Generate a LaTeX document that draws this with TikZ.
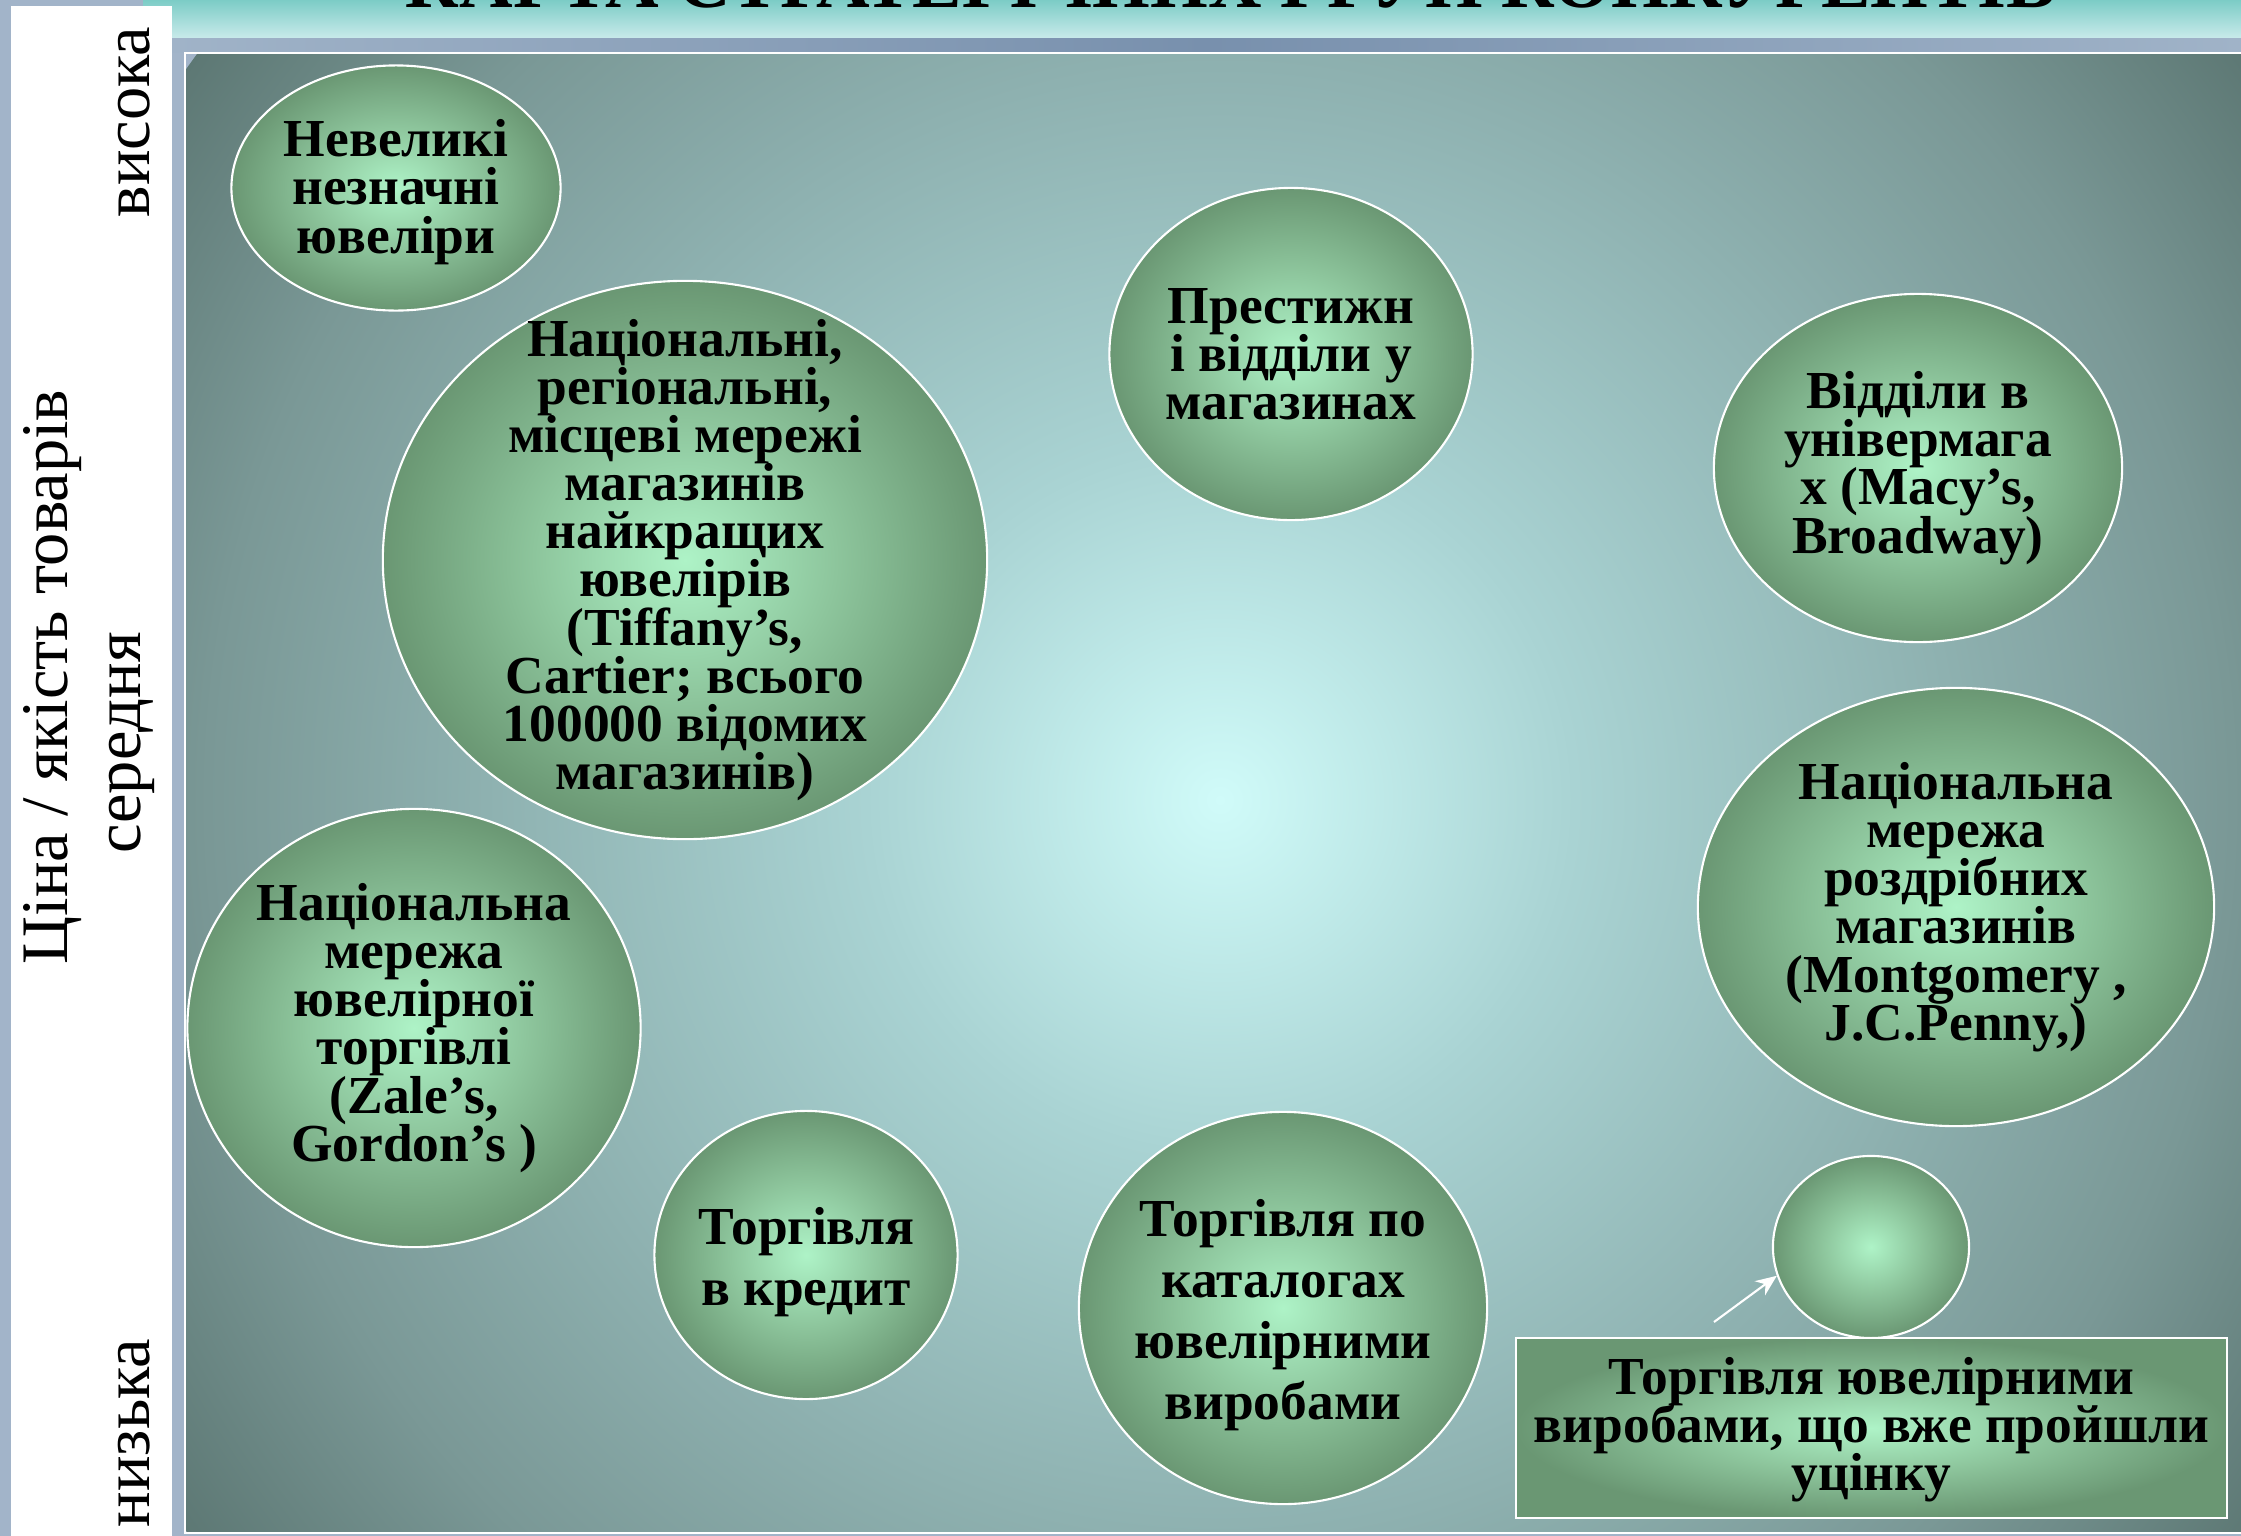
\documentclass[tikz,border=0pt]{standalone}
\usepackage{fontspec}
\setmainfont{Liberation Serif}
\usepackage{xcolor}
\usepackage{tikz}
\usetikzlibrary{shapes.geometric,arrows.meta}
\definecolor{sidegray}{HTML}{A2B4C9}
\definecolor{tealtop}{HTML}{7CCCC6}
\definecolor{tealbot}{HTML}{C8EAEA}
\definecolor{bandend}{HTML}{A0B3C8}
\definecolor{bandmid}{HTML}{7890AD}
\definecolor{panin}{HTML}{D0FBF9}
\definecolor{panlt}{HTML}{A9D3D3}
\definecolor{panmid}{HTML}{8EB1B0}
\definecolor{pandk}{HTML}{7A9896}
\definecolor{panout}{HTML}{5D7874}
\definecolor{bubin}{HTML}{AEF3C7}
\definecolor{bubmid}{HTML}{8DC59C}
\definecolor{bubout}{HTML}{6A9773}
\pgfdeclareradialshading{panglow}{\pgfpointorigin}{color(0bp)=(panin); color(7bp)=(panlt); color(14.5bp)=(panmid); color(20bp)=(pandk); color(25bp)=(panout); color(50bp)=(panout)}
\pgfdeclareradialshading{bubglow}{\pgfpointorigin}{color(0bp)=(bubin); color(12.5bp)=(bubmid); color(25bp)=(bubout); color(50bp)=(bubout)}
\newcommand{\bubfont}{\fontsize{15.2}{13.7}\selectfont\bfseries\lineskiplimit=-100pt}
\tikzset{
  bubble/.style={ellipse, draw=white, line width=0.6pt, shade, shading=bubglow, inner sep=0pt},
  notebox/.style={rectangle, draw=white, line width=0.6pt, shade, shading=bubglow, inner sep=0pt},
  bubtxt/.style={align=center, font=\bubfont, text=black},
  widetxt/.style={bubtxt, font={\fontsize{15.2}{17.4}\selectfont\bfseries\lineskiplimit=-100pt}},
  axislab/.style={rotate=90, font=\fontsize{18.9}{20}\selectfont, text=black},
  titletxt/.style={font=\fontsize{21.1}{22}\selectfont\bfseries, text=black},
  pointer/.style={draw=white, line width=0.6pt, -{Stealth[length=6pt,width=5pt]}}
}

\begin{document}
\begin{tikzpicture}[x=0.01cm, y=-0.01cm]
  \path[use as bounding box] (0,0) rectangle (2241,1536);
  \clip (0,0) rectangle (2241,1536);

  % slide frame
  \fill[sidegray] (0,0) rectangle (2241,1536);
  \shade[top color=tealtop, bottom color=tealbot] (143,0) rectangle (2241,38);
  \shade[left color=bandend, right color=bandend, middle color=bandmid] (172,38) rectangle (2241,52);
  \fill[white] (11,6) rectangle (172,1536);
  \begin{scope}
    \clip (185,53) rectangle (2241,1533);
    \shade[shading=panglow] (1220,800) circle [radius=1266];
  \end{scope}
  \draw[white, line width=0.6pt] (185,53) rectangle (2245,1533);

  \node[titletxt, anchor=base] (title) at (1231,7) {КАРТА СТРАТЕГІЧНИХ ГРУП КОНКУРЕНТІВ};

  % price / quality axis
  \node[axislab] (price) at (53,677) {Ціна / якість товарів};
  \node[axislab] (high) at (134,122) {висока};
  \node[axislab] (mid) at (132,743) {середня};
  \node[axislab] (low) at (134,1433) {низька};

  % groups
  \node[bubble, minimum width=3.29cm, minimum height=2.45cm] (small) at (396,188) {};
  \node[bubble, minimum width=6.04cm, minimum height=5.58cm] (chains) at (685,560) {};
  \node[bubble, minimum width=3.63cm, minimum height=3.32cm] (prestige) at (1291,354) {};
  \node[bubble, minimum width=4.08cm, minimum height=3.48cm] (depts) at (1918,468) {};
  \node[bubble, minimum width=5.16cm, minimum height=4.38cm] (retail) at (1956,907) {};
  \node[bubble, minimum width=4.53cm, minimum height=4.38cm] (jewel) at (414,1028) {};
  \node[bubble, minimum width=3.03cm, minimum height=2.88cm] (credit) at (806,1255) {};
  \node[bubble, minimum width=4.08cm, minimum height=3.92cm] (catalog) at (1283,1308) {};
  \node[bubble, minimum width=1.96cm, minimum height=1.82cm] (discount) at (1871,1247) {};
  \node[notebox, minimum width=7.11cm, minimum height=1.80cm] (note) at (1871.5,1428) {};

  \node[bubtxt] (smallt) at ([yshift=-0.04cm]small) {Невеликі\\незначні\\ювеліри};
  \node[bubtxt] (chainst) at (chains) {Національні,\\регіональні,\\місцеві мережі\\магазинів\\найкращих\\ювелірів\\(Tiffany’s,\\Cartier; всього\\100000 відомих\\магазинів)};
  \node[bubtxt] (prestiget) at (prestige) {Престижн\\і відділи у\\магазинах};
  \node[bubtxt] (deptst) at (depts) {Відділи в\\універмага\\х (Macy’s,\\Broadway)};
  \node[bubtxt] (retailt) at (retail) {Національна\\мережа\\роздрібних\\магазинів\\(Montgomery ,\\J.C.Penny,)};
  \node[bubtxt] (jewelt) at (jewel) {Національна\\мережа\\ювелірної\\торгівлі\\(Zale’s,\\Gordon’s )};
  \node[widetxt] (creditt) at ([yshift=-0.07cm]credit) {Торгівля\\в кредит};
  \node[widetxt] (catalogt) at ([yshift=-0.07cm]catalog) {Торгівля по\\каталогах\\ювелірними\\виробами};
  \node[bubtxt] (notet) at ([yshift=-0.02cm]note) {Торгівля ювелірними\\виробами, що вже пройшли\\уцінку};

  \coordinate (ptail) at (1714,1322);
  \draw[pointer] (ptail) -- (discount.197);
\end{tikzpicture}
\end{document}
